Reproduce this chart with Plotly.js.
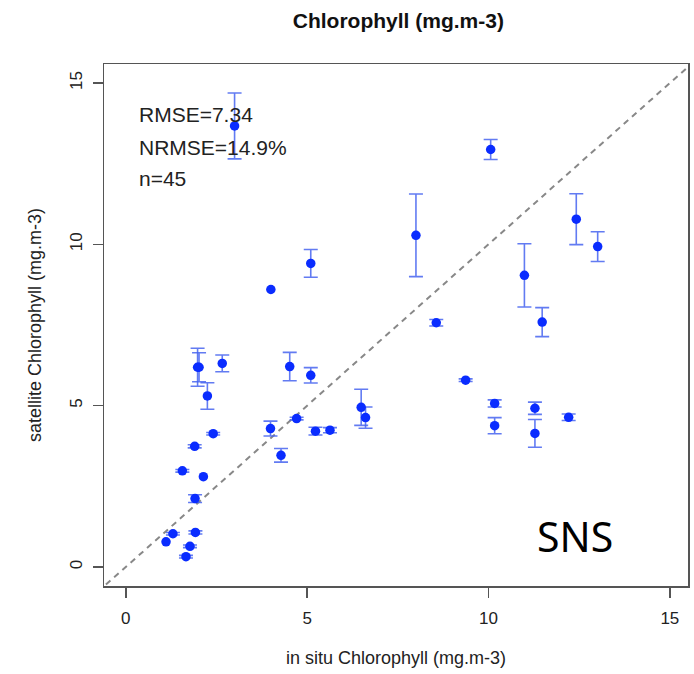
<!DOCTYPE html>
<html>
<head>
<meta charset="utf-8">
<script src="https://cdn.plot.ly/plotly-3.0.1.min.js"></script>
<style>
html,body{margin:0;padding:0;background:#fff;}
#chart{width:694px;height:674px;}
</style>
</head>
<body>
<div id="chart"></div>
<script>
// in situ chlorophyll (x), satellite chlorophyll (y), satellite error (±)
const inSitu = [3.0, 4.0, 5.1, 10.06, 8.0, 12.42, 13.01, 10.99, 11.48, 8.56,
  9.37, 10.17, 10.17, 11.28, 11.28, 12.21, 1.98, 2.02, 2.66, 2.25,
  4.52, 5.1, 6.49, 6.61, 4.71, 3.99, 5.23, 5.63, 4.28, 2.41,
  1.90, 1.56, 2.14, 1.91, 1.30, 1.11, 1.92, 1.77, 1.66];
const satellite = [13.67, 8.6, 9.41, 12.94, 10.28, 10.78, 9.93, 9.04, 7.59, 7.57,
  5.79, 5.07, 4.38, 4.92, 4.14, 4.64, 6.19, 6.19, 6.31, 5.30,
  6.21, 5.94, 4.95, 4.63, 4.60, 4.29, 4.21, 4.24, 3.46, 4.13,
  3.74, 2.98, 2.80, 2.12, 1.03, 0.78, 1.07, 0.64, 0.32];
const satErr = [1.02, NaN, 0.43, 0.31, 1.28, 0.79, 0.46, 0.98, 0.45, 0.10,
  0.04, 0.11, 0.25, 0.19, 0.43, 0.10, 0.59, 0.45, 0.26, 0.41,
  0.44, 0.24, 0.56, 0.33, 0.04, 0.23, 0.12, 0.08, 0.21, 0.04,
  0.05, 0.04, NaN, 0.12, 0.04, NaN, 0.05, 0.04, 0.04];
const oneToOne = [-1, 16];
const tickValues = [0, 5, 10, 15];
const statLines = ["RMSE=7.34", "NRMSE=14.9%", "n=45"];
const regionLabel = "SNS";

const FONT = "Liberation Sans, Arial, Helvetica, sans-serif";

const traces = [
  {
    x: oneToOne, y: oneToOne, type: "scatter", mode: "lines",
    line: {color: "#888888", width: 2, dash: "6px,5px"},
    hoverinfo: "skip", showlegend: false
  },
  {
    x: inSitu, y: satellite, type: "scatter", mode: "markers",
    marker: {color: "#0a2cff", size: 9.5},
    error_y: {type: "data", array: satErr, visible: true,
      color: "rgba(70,100,240,0.85)", thickness: 1.6, width: 7},
    showlegend: false
  }
];

const axisCommon = {
  showgrid: false, zeroline: false, showline: true, mirror: true,
  linecolor: "#555", linewidth: 1.5,
  ticks: "outside", ticklen: 10, tickcolor: "#555", tickwidth: 1.5,
  tickmode: "array", tickvals: tickValues,
  tickfont: {family: FONT, size: 17, color: "#222"},
  automargin: false
};

const annotations = [
  {text: statLines[0], x: 0.0565, y: 0.904},
  {text: statLines[1], x: 0.0565, y: 0.8397},
  {text: statLines[2], x: 0.0565, y: 0.7816}
].map(a => Object.assign(a, {
  xref: "paper", yref: "paper", xanchor: "left", yanchor: "middle",
  showarrow: false, font: {family: FONT, size: 21, color: "#222"}
}));
annotations.push({
  text: regionLabel, xref: "paper", yref: "paper", x: 0.8065, y: 0.0958,
  xanchor: "center", yanchor: "middle", showarrow: false,
  font: {family: "Noto Sans, sans-serif", size: 41, color: "#000"}
});

const layout = {
  width: 694, height: 674,
  margin: {l: 104, r: 6, t: 64, b: 88},
  paper_bgcolor: "#fff", plot_bgcolor: "#fff",
  title: {
    text: "<b>Chlorophyll (mg.m-3)</b>",
    font: {family: FONT, size: 21, color: "#111"},
    x: 0.574, xanchor: "center", y: 0.970, yanchor: "middle"
  },
  xaxis: Object.assign({}, axisCommon, {
    range: [-0.6, 15.5],
    ticklabelstandoff: 6,
    title: {text: "in situ Chlorophyll (mg.m-3)", standoff: 24,
      font: {family: FONT, size: 18, color: "#222"}}
  }),
  yaxis: Object.assign({}, axisCommon, {
    range: [-0.59, 15.59],
    tickangle: -90,
    ticklabelstandoff: 4,
    title: {text: "satellite Chlorophyll (mg.m-3)", standoff: 20,
      font: {family: FONT, size: 18, color: "#222"}}
  }),
  annotations: annotations
};

Plotly.newPlot("chart", traces, layout, {displayModeBar: false, staticPlot: true});
</script>
</body>
</html>
